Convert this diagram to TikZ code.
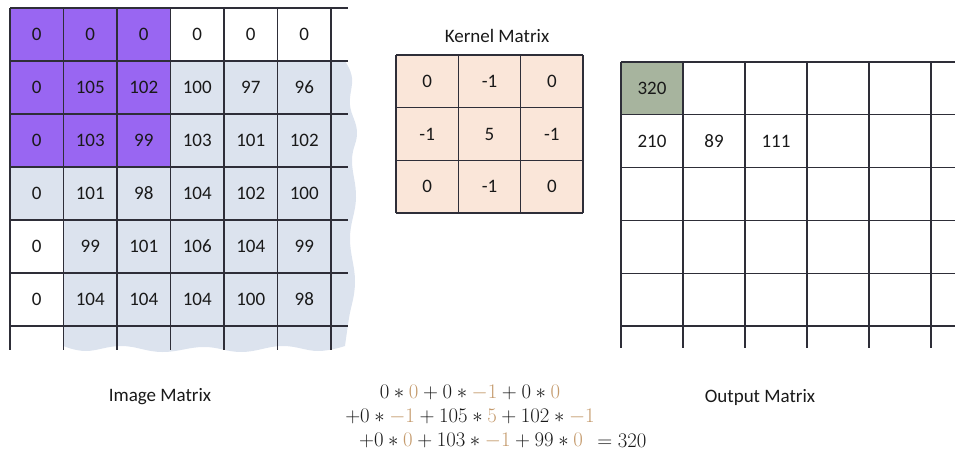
\documentclass[tikz,border=0pt]{standalone}
\usepackage{amsmath}
\usepackage{fontspec}
\setmainfont{Carlito}
\usepackage{tikz}
\usetikzlibrary{calc,positioning}
\definecolor{imgblue}{HTML}{DCE3EE}
\definecolor{winpurple}{HTML}{9966F2}
\definecolor{kerpeach}{HTML}{FAE6D9}
\definecolor{outgreen}{HTML}{A7B49E}
\definecolor{gridline}{HTML}{2E2E38}
\definecolor{coefcol}{HTML}{C49A6C}
\newcommand{\kc}[1]{\textcolor{coefcol}{#1}}

\begin{document}
\begin{tikzpicture}[x=1pt,y=-1pt,
    gridl/.style={draw=gridline, line width=1.1pt},
    num/.style={font=\fontsize{19}{23}\selectfont, text=black!90},
    lbl/.style={font=\fontsize{19}{23}\selectfont, text=black!90},
    eqn/.style={font=\fontsize{21}{25}\selectfont, text=black!90, inner sep=0pt}]
    \useasboundingbox (0,0) rectangle (960,460);
    % image matrix: padded input with wavy edge
    \fill[imgblue] (170.5,61) -- (345,61)
        -- plot[smooth, tension=0.7] coordinates {(345,61) (352,78) (350,105) (357,132) (352,160) (356,198) (350,238) (355,282) (349,318) (345,346)}
        -- plot[smooth, tension=0.7] coordinates {(345,346) (318,351) (282,346) (242,352) (204,347) (162,352) (122,346) (86,351) (63.5,346)}
        -- (63.5,220) -- (10,220) -- (10,167) -- (170.5,167) -- cycle;
    \fill[winpurple] (10,8) rectangle (170.5,167);
    \foreach \r in {0,...,6} \draw[gridl] (10,{8+53*\r}) -- (348,{8+53*\r});
    \foreach \c in {0,...,6} \draw[gridl] ({10+53.5*\c},8) -- ({10+53.5*\c},350);
    \foreach \row [count=\r from 0] in {{0,0,0,0,0,0},{0,105,102,100,97,96},{0,103,99,103,101,102},
        {0,101,98,104,102,100},{0,99,101,106,104,99},{0,104,104,104,100,98}}
        \foreach \v [count=\c from 0] in \row
            \node[num] (img-\r-\c) at ({36.75+53.5*\c},{34.5+53*\r}) {\v};
    \node[lbl] (imglabel) at (160,397) {Image Matrix};

    % kernel matrix
    \fill[kerpeach] (396,55) rectangle (583,213);
    \foreach \r in {0,...,3} \draw[gridl] (396,{55+52.67*\r}) -- (583,{55+52.67*\r});
    \foreach \c in {0,...,3} \draw[gridl] ({396+62.33*\c},55) -- ({396+62.33*\c},213);
    \foreach \row [count=\r from 0] in {{0,-1,0},{-1,5,-1},{0,-1,0}}
        \foreach \v [count=\c from 0] in \row
            \node[num] (ker-\r-\c) at ({427.2+62.33*\c},{81.3+52.67*\r}) {\v};
    \node[lbl] (kerlabel) at (497,36) {Kernel Matrix};

    % output matrix
    \fill[outgreen] (621,62) rectangle (683,114.8);
    \foreach \r in {0,...,5} \draw[gridl] (621,{62+52.8*\r}) -- (955,{62+52.8*\r});
    \foreach \c in {0,...,5} \draw[gridl] ({621+62*\c},62) -- ({621+62*\c},348);
    \node[num] (out-0-0) at (652,88.4) {320};
    \node[num] (out-1-0) at (652,141.2) {210};
    \node[num] (out-1-1) at (714,141.2) {89};
    \node[num] (out-1-2) at (776,141.2) {111};
    \node[lbl] (outlabel) at (760,397) {Output Matrix};

    % the sum for the first window
    \node[eqn] (eq-1) at (470,393) {$0\ast\kc{0}+0\ast\kc{-1}+0\ast\kc{0}$};
    \node[eqn] (eq-2) at (470,417) {$+0\ast\kc{-1}+105\ast\kc{5}+102\ast\kc{-1}$};
    \node[eqn] (eq-3) at (471,441) {$+0\ast\kc{0}+103\ast\kc{-1}+99\ast\kc{0}$};
    \node[eqn, right=14pt of eq-3] (eq-res) {$=320$};
\end{tikzpicture}
\end{document}
